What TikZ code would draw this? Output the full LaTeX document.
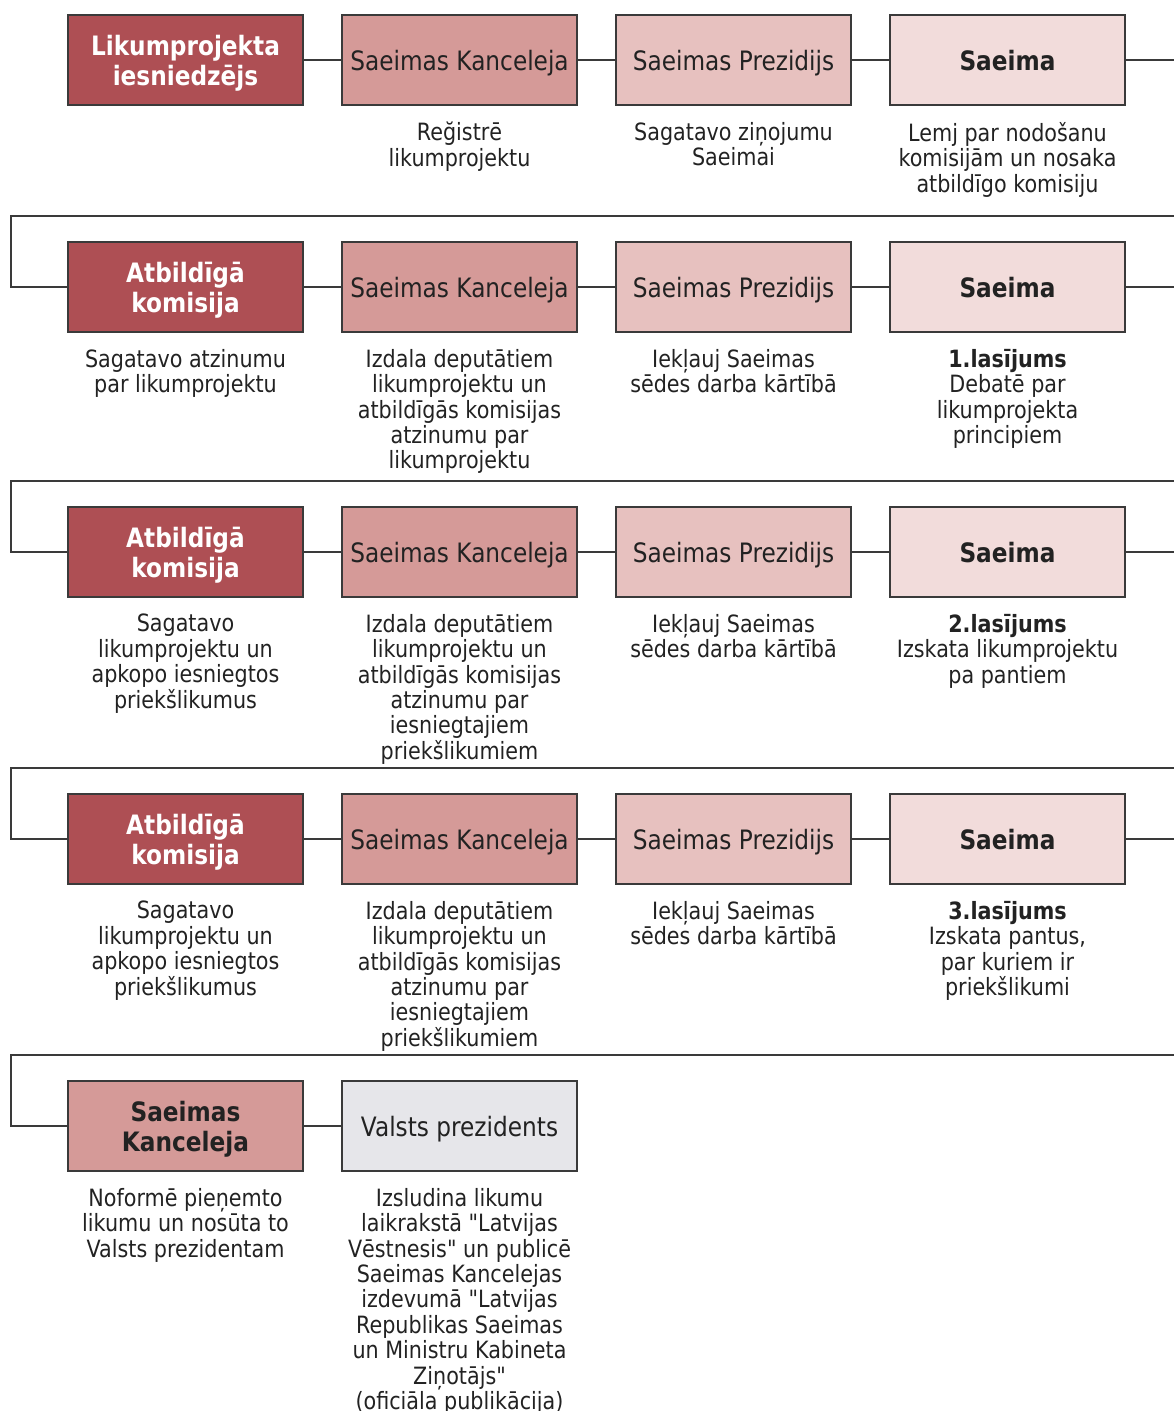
\documentclass[tikz,border=0pt]{standalone}
\usepackage{fontspec}
\setmainfont{DejaVu Sans}[FakeStretch=0.87, Ligatures=TeXOff]
\definecolor{cdark}{HTML}{AE4F54}
\definecolor{ckanc}{HTML}{D59A98}
\definecolor{cprez}{HTML}{E7C1BF}
\definecolor{csaei}{HTML}{F2DCDB}
\definecolor{cvals}{HTML}{E6E6EA}
\definecolor{cline}{HTML}{3A3A3A}
\definecolor{ctext}{HTML}{222222}
\newcommand\bxs{\rule{0pt}{26pt}}
\newcommand\bxd{\rule[-6pt]{0pt}{0pt}}
\tikzset{
  box/.style={draw=cline, line width=1.4pt, minimum width=235pt, minimum height=90pt,
    inner sep=0pt, align=center, text=ctext, font=\fontsize{26.7}{30}\selectfont},
  darkbox/.style={box, fill=cdark, text=white, font=\fontsize{26.7}{30}\selectfont\bfseries},
  kancbox/.style={box, fill=ckanc},
  prezbox/.style={box, fill=cprez},
  saeibox/.style={box, fill=csaei, font=\fontsize{26.7}{30}\selectfont\bfseries},
  valsbox/.style={box, fill=cvals},
  desc/.style={anchor=north, inner sep=0pt, align=center, text=ctext,
    font=\fontsize{23.8}{25.4}\selectfont, execute at begin node={\rule{0pt}{18pt}}},
  conn/.style={draw=cline, line width=1.4pt},
}
\begin{document}
\begin{tikzpicture}[x=1pt,y=-1pt]
\useasboundingbox (0,0) rectangle (1174,1411);
% ---------- Row 1
\node[darkbox] (a1) at (185.5,60) {\bxs Likumprojekta\\iesniedzējs\bxd};
\node[kancbox] (b1) at (459.5,60) {\bxs Saeimas Kanceleja\bxd};
\node[prezbox] (c1) at (733.5,60) {\bxs Saeimas Prezidijs\bxd};
\node[saeibox] (d1) at (1007.5,60) {\bxs Saeima\bxd};
\node[desc] (tb1) at (459.5,122) {Reğistrē\\likumprojektu};
\node[desc] (tc1) at (733.5,122) {Sagatavo ziņojumu\\Saeimai};
\node[desc] (td1) at (1007.5,122) {Lemj par nodošanu\\komisijām un nosaka\\atbildīgo komisiju};
% ---------- Row 2
\node[darkbox] (a2) at (185.5,287) {\bxs Atbildīgā\\komisija\bxd};
\node[kancbox] (b2) at (459.5,287) {\bxs Saeimas Kanceleja\bxd};
\node[prezbox] (c2) at (733.5,287) {\bxs Saeimas Prezidijs\bxd};
\node[saeibox] (d2) at (1007.5,287) {\bxs Saeima\bxd};
\node[desc] (ta2) at (185.5,349) {Sagatavo atzinumu\\par likumprojektu};
\node[desc] (tb2) at (459.5,349) {Izdala deputātiem\\likumprojektu un\\atbildīgās komisijas\\atzinumu par\\likumprojektu};
\node[desc] (tc2) at (733.5,349) {Iekļauj Saeimas\\sēdes darba kārtībā};
\node[desc] (td2) at (1007.5,349) {\textbf{1.lasījums}\\Debatē par\\likumprojekta\\principiem};
% ---------- Row 3
\node[darkbox] (a3) at (185.5,552) {\bxs Atbildīgā\\komisija\bxd};
\node[kancbox] (b3) at (459.5,552) {\bxs Saeimas Kanceleja\bxd};
\node[prezbox] (c3) at (733.5,552) {\bxs Saeimas Prezidijs\bxd};
\node[saeibox] (d3) at (1007.5,552) {\bxs Saeima\bxd};
\node[desc] (ta3) at (185.5,614) {Sagatavo\\likumprojektu un\\apkopo iesniegtos\\priekšlikumus};
\node[desc] (tb3) at (459.5,614) {Izdala deputātiem\\likumprojektu un\\atbildīgās komisijas\\atzinumu par\\iesniegtajiem\\priekšlikumiem};
\node[desc] (tc3) at (733.5,614) {Iekļauj Saeimas\\sēdes darba kārtībā};
\node[desc] (td3) at (1007.5,614) {\textbf{2.lasījums}\\Izskata likumprojektu\\pa pantiem};
% ---------- Row 4
\node[darkbox] (a4) at (185.5,839) {\bxs Atbildīgā\\komisija\bxd};
\node[kancbox] (b4) at (459.5,839) {\bxs Saeimas Kanceleja\bxd};
\node[prezbox] (c4) at (733.5,839) {\bxs Saeimas Prezidijs\bxd};
\node[saeibox] (d4) at (1007.5,839) {\bxs Saeima\bxd};
\node[desc] (ta4) at (185.5,901) {Sagatavo\\likumprojektu un\\apkopo iesniegtos\\priekšlikumus};
\node[desc] (tb4) at (459.5,901) {Izdala deputātiem\\likumprojektu un\\atbildīgās komisijas\\atzinumu par\\iesniegtajiem\\priekšlikumiem};
\node[desc] (tc4) at (733.5,901) {Iekļauj Saeimas\\sēdes darba kārtībā};
\node[desc] (td4) at (1007.5,901) {\textbf{3.lasījums}\\Izskata pantus,\\par kuriem ir\\priekšlikumi};
% ---------- Row 5
\node[kancbox, font=\fontsize{26.7}{30}\selectfont\bfseries] (a5) at (185.5,1126) {\bxs Saeimas\\Kanceleja\bxd};
\node[valsbox] (b5) at (459.5,1126) {\bxs Valsts prezidents\bxd};
\node[desc] (ta5) at (185.5,1188) {Noformē pieņemto\\likumu un nosūta to\\Valsts prezidentam};
\node[desc] (tb5) at (459.5,1188) {Izsludina likumu\\laikrakstā "Latvijas\\Vēstnesis" un publicē\\Saeimas Kancelejas\\izdevumā "Latvijas\\Republikas Saeimas\\un Ministru Kabineta\\Ziņotājs"\\(oficiāla publikācija)};
% ---------- Coordinates for connector ends
\coordinate (e1) at (1174,60);
\coordinate (e2) at (1174,287);
\coordinate (e3) at (1174,552);
\coordinate (e4) at (1174,839);
\coordinate (r1) at (1174,216);
\coordinate (l1) at (11,216);
\coordinate (r2) at (1174,481);
\coordinate (l2) at (11,481);
\coordinate (r3) at (1174,768);
\coordinate (l3) at (11,768);
\coordinate (r4) at (1174,1055);
\coordinate (l4) at (11,1055);
% ---------- Connectors
\foreach \r in {1,2,3,4}{
  \draw[conn] (a\r) -- (b\r);
  \draw[conn] (b\r) -- (c\r);
  \draw[conn] (c\r) -- (d\r);
  \draw[conn] (d\r) -- (e\r);
}
\draw[conn] (a5) -- (b5);
\draw[conn] (r1) -- (l1) |- (a2.west);
\draw[conn] (r2) -- (l2) |- (a3.west);
\draw[conn] (r3) -- (l3) |- (a4.west);
\draw[conn] (r4) -- (l4) |- (a5.west);
\end{tikzpicture}
\end{document}
